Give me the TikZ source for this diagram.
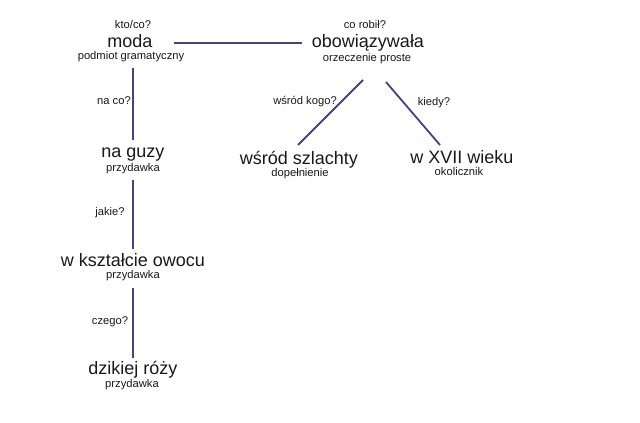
\documentclass[tikz,border=0pt]{standalone}
\usepackage{fontspec}
\setmainfont{Liberation Sans}
\definecolor{linecol}{RGB}{72,66,132}
\definecolor{txt}{RGB}{25,25,25}
\tikzset{
  big/.style={anchor=base,inner sep=0pt,text=txt,font=\fontsize{18}{18}\selectfont},
  small/.style={anchor=base,inner sep=0pt,text=txt,font=\fontsize{11.2}{12}\selectfont},
  conn/.style={draw=linecol,line width=1.8pt}
}
\begin{document}
\begin{tikzpicture}[x=1pt,y=-1pt]
\useasboundingbox[fill=white] (0,0) rectangle (640,423);
% left column
\node[small] (q1) at (133,28) {kto/co?};
\node[big] (moda) at (130,47.5) {moda};
\node[small] (moda-r) at (131,59.5) {podmiot gramatyczny};
\node[small] (q2) at (114,104) {na co?};
\node[big] (guzy) at (133,157) {na guzy};
\node[small] (guzy-r) at (133,171.5) {przydawka};
\node[small] (q3) at (110,215.5) {jakie?};
\node[big] (owoc) at (133,266) {w kształcie owocu};
\node[small] (owoc-r) at (133,278.5) {przydawka};
\node[small] (q4) at (110,324) {czego?};
\node[big] (roza) at (133,374) {dzikiej róży};
\node[small] (roza-r) at (132,387.5) {przydawka};
% right part
\node[small] (q5) at (365,28) {co robił?};
\node[big] (obow) at (368,47.5) {obowiązywała};
\node[small] (obow-r) at (367,61) {orzeczenie proste};
\node[small] (q6) at (305,104) {wśród kogo?};
\node[big] (szl) at (299,164) {wśród szlachty};
\node[small] (szl-r) at (300,176.5) {dopełnienie};
\node[small] (q7) at (434,105) {kiedy?};
\node[big] (wiek) at (462,163) {w XVII wieku};
\node[small] (wiek-r) at (459,175.5) {okolicznik};
% connector end points
\coordinate (a1) at (174,42.7);
\coordinate (a2) at (302,42.7);
\coordinate (b1) at (133,68);
\coordinate (b2) at (133,140);
\coordinate (c1) at (133,180);
\coordinate (c2) at (133,249);
\coordinate (d1) at (133,288);
\coordinate (d2) at (133,358);
\coordinate (e1) at (363,80);
\coordinate (e2) at (298,145);
\coordinate (f1) at (386,82);
\coordinate (f2) at (440,145);
\draw[conn] (a1) -- (a2);
\draw[conn] (b1) -- (b2);
\draw[conn] (c1) -- (c2);
\draw[conn] (d1) -- (d2);
\draw[conn] (e1) -- (e2);
\draw[conn] (f1) -- (f2);
\end{tikzpicture}
\end{document}
